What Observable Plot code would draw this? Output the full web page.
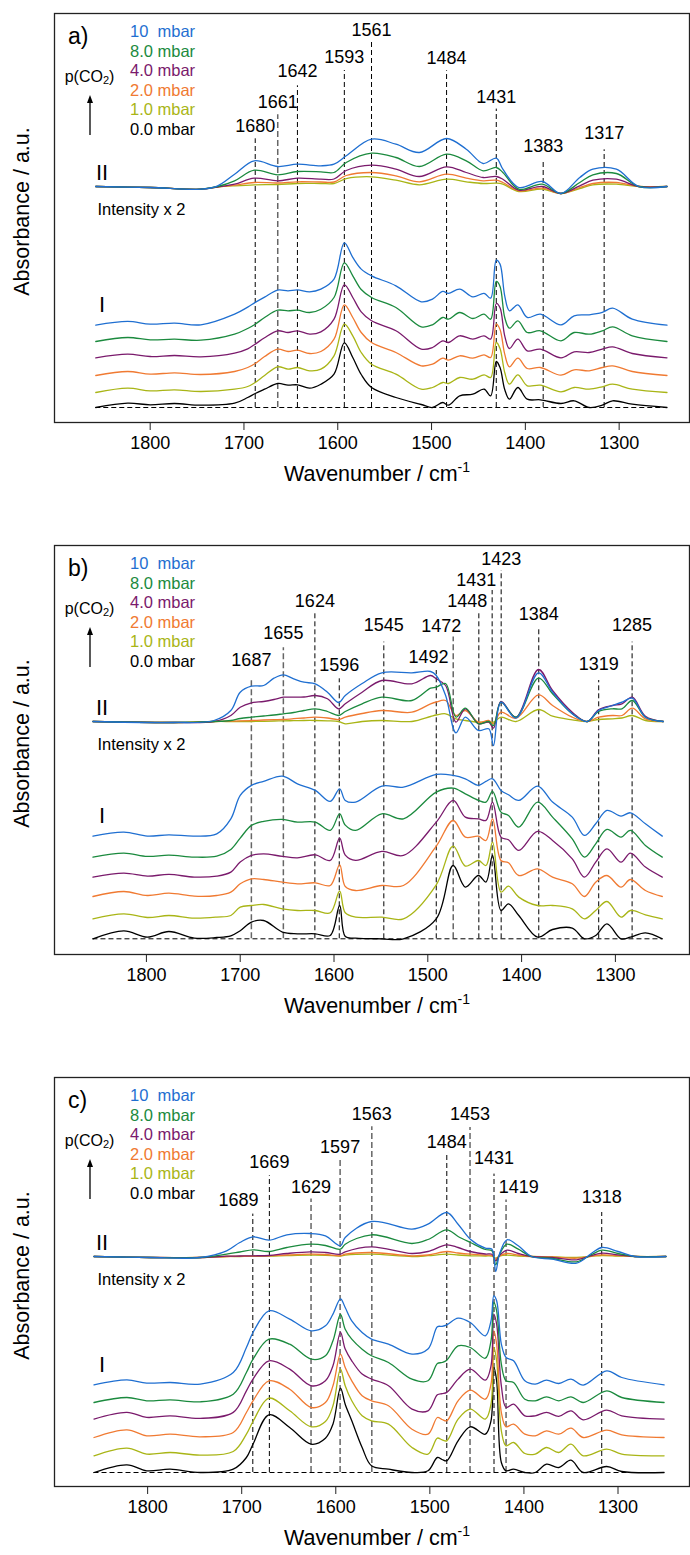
<!DOCTYPE html>
<html><head><meta charset="utf-8">
<script src="https://cdn.jsdelivr.net/npm/d3@7"></script>
<script src="https://cdn.jsdelivr.net/npm/@observablehq/plot@0.6"></script>
<style>
body{margin:0;background:#fff;width:690px;overflow:hidden}
svg{display:block}
</style></head><body><div id="chart"></div>
<script>
// ---------- legend / series ----------
const seriesNames = ["10\u00a0\u00a0mbar","8.0 mbar","4.0 mbar","2.0 mbar","1.0 mbar","0.0 mbar"];
const seriesColors = ["#1f6fd1","#1b8a3e","#7a1a6c","#f07a32","#a9b516","#000000"];
const xTicks = [1800,1700,1600,1500,1400,1300];

// ---------- panel a ----------
const wnA_I = [1858,1824,1800,1774,1746,1710,1696,1688,1678,1664,1653,1643,1630,1618,1604,1593,1584,1575,1564,1538,1511,1499,1488,1482,1470,1456,1444,1437,1431,1427,1422,1417,1408,1398,1384,1362,1348,1332,1318,1307,1286,1249];
const offA_I = [97.4,81,64.7,47,30,15];
const blueA_I   = [0,3.7,1,2,0.3,11,18,22.7,28,35,34.3,35.3,33.3,36,46,82.3,67.7,56,49.3,39.3,23.3,26,33.7,31.7,36,28.3,31.7,27,65,61,29.3,14.3,20.3,7.7,11,0.3,9.3,10.3,12.7,17,6,0];
const greenA_I  = [0,4,1.7,2.3,1.3,7.3,13,17.3,24,31.3,30.7,31.3,29,32.3,44,78.7,65.7,52,44,34,14.7,16.7,24,22.3,29,23,27.3,22.3,60,55,24,13.3,20.7,9,10.7,0.7,9,7.3,10.7,14.7,5.7,0];
const purpleA_I = [0,3.7,1.3,2.3,1,4.7,9,13.7,20,27,25.3,27,23.7,26,38.7,73,60.3,46,37,27,8.7,10.3,17,15.3,22,18.7,22,18.7,54.3,50,22,9.3,18.7,7,8.7,0,6,5.3,8.7,11,4.3,0];
const orangeA_I = [0,4,1.3,2.7,1,4,8,12,19,26.3,24,25.3,22,24,36.3,70.7,58,43,33,23,9.7,11.3,17.3,15.3,19.7,17.3,20.7,18,51.3,46,21.3,8.7,17.3,7,8,0.3,5.7,4.7,8,9.7,4,0];
const oliveA_I  = [0,4.3,1.7,2.7,1,3.3,6,10,17,25.7,23.3,25,21.7,23.3,36.7,68.3,56.7,40,28.3,18.3,3.3,5,10,9,15,13.3,17.7,15,50,44,20,8.3,17.7,6.7,7.3,0.7,5,3.3,5.7,8.3,3.3,0];
const blackA_I  = [0,4.3,2.7,4,2.3,4.3,10,14,18.3,24,22.3,22.7,19.3,23.3,33.3,64.7,50,33,20,10,3,0,5,2.3,11.7,13.3,18.3,11.7,46,40,18,8.3,20,8.3,7.7,4,6.7,0,2.3,6.7,3.3,0];

const wnA_II = [1858,1800,1746,1728,1710,1689,1664,1643,1618,1604,1591,1564,1538,1513,1484,1463,1445,1431,1424,1407,1382,1362,1342,1328,1303,1279,1249];
const baseA_II = 236;
const blueA_II   = [0,-1,-2.7,0.7,12.3,25.7,20,22.3,20.7,22.3,30.7,47.3,42.3,34,48,37.3,23,28.3,17.3,-1,5,-7,9,17.3,17.3,0,0];
const greenA_II  = [0,-1,-2.7,0,5.7,16.3,11.7,15,14.7,14,24,33.3,29,20,32.3,25.7,15.7,19,14,-2.7,2.3,-7,4,11.7,13,0,0];
const purpleA_II = [0,-1,-2.7,-0.5,2.3,8.3,5.7,8.3,7.3,7.5,16,21.3,17.3,10,19.7,14,9,10,7.3,-3.7,0,-7,0.7,6.3,7.3,0,0];
const orangeA_II = [0,-1,-2.7,-0.5,1.3,4,3.5,4.7,4.5,4.5,11,14,10.7,4.7,12.3,8.3,5.7,6.3,4,-4.3,-1.7,-7,-1,3,4,0,0];
const oliveA_II  = [0,-1,-2.7,-0.5,0.7,1.7,2,3,3,3,7.8,9.7,6.3,1.7,7.3,4.7,3,3.3,2.3,-5,-2.7,-7,-2,1.7,2.3,0,0];

const peaksA = [
  {label:"1680", pos:1688, top:283.7, ly:296.7},
  {label:"1661", pos:1664, top:307.7, ly:320},
  {label:"1642", pos:1643, top:336.7, ly:351.7},
  {label:"1593", pos:1593, top:352, ly:365},
  {label:"1561", pos:1564, top:380, ly:392.4},
  {label:"1484", pos:1484, top:351.7, ly:364.4},
  {label:"1431", pos:1431, top:313.4, ly:325.7},
  {label:"1383", pos:1381, top:261.7, ly:276.7},
  {label:"1317", pos:1316, top:272.7, ly:289}
];

// ---------- panel b ----------
const wnB_I = [1857,1824,1799,1776,1749,1725,1710,1700,1688,1675,1655,1639,1620,1604,1594,1588,1577,1549,1526,1491,1473,1460,1446,1438,1431,1422,1414,1403,1383,1367,1346,1333,1321,1309,1294,1284,1268,1250];
const offB_I = [118.4,97.4,77.4,58,35.7,15.7];
const blueB_I   = [0,4,0,1.3,0,2.3,17.3,40.7,50.7,54.7,60,52.3,45.7,34.7,47.3,35.7,34,50,49,61.7,60.7,57.3,50.7,54.7,57.3,45.7,41.3,35.7,50,34,19,0.7,12.3,25.7,20,23.3,12.3,0];
const greenB_I  = [0,4,0.7,2,0,1,7.7,19,31.7,35.7,37.7,35,35,26.7,43.3,32,26.7,43.3,38.3,65,69,63.3,56.7,55,65.7,45,41.7,30,55,40,18.3,0,13.3,27.7,20,26.7,11.7,0];
const purpleB_I = [0,4,1,2.7,0,1,5,15,21.7,23.3,20.7,19.3,22.3,16.7,39,22,16.7,25.7,21.7,55,76.7,60,58.3,56.7,75,40,37.3,26.7,45.7,36.7,18.3,0,15,28.3,15,24,10,0];
const orangeB_I = [0,5,1,3.3,0.3,1,4.3,12.7,17.7,17,14.3,12.7,13.7,11,31.7,10,6,11,11,50.3,76,59.3,60.3,56,77.7,36,33.7,21,27.7,19.3,12.7,0,14.3,21,9.3,17,6,0];
const oliveB_I  = [0,5,1.3,3.3,0.7,1.7,3.3,11.7,13.3,14.3,10,8.3,8.3,6,27.7,6,1.7,1.7,0,34,72.7,52.7,58.3,53.3,76.7,26.7,32.7,21.7,13.3,13.3,10,0,8.3,17.3,1.7,8.3,4,0];
const blackB_I  = [0,8,1.7,7.3,0.7,1.3,3,8,16.7,18.3,6.7,5,5,3.3,33.3,2.3,0.7,0,0,20,73.3,51.7,63.3,56.7,83.3,28.3,35,23.3,1.7,9.3,10.7,0,3.3,15,0,1.7,6,0];

const wnB_II = [1857,1771,1728,1710,1700,1688,1675,1664,1654,1643,1632,1620,1607,1595,1588,1570,1549,1517,1497,1491,1481,1470,1460,1446,1435,1430,1422,1406,1382,1367,1346,1330,1318,1303,1293,1282,1268,1249];
const baseB_II = 233;
const blueB_II   = [0,-1,1,11,29.3,35.3,36,43.3,46.7,42.7,39.3,37.7,29.3,19,26,38,48.7,48.7,50,46,26,-11.3,4.3,-9,-7.3,-24,19.3,3.3,48.7,29.3,7.7,0,11,16,19.3,23.3,4.3,0];
const greenB_II  = [0,-1,0,1,3,4.3,5.5,6.5,7.7,9,11,12.7,10,6,10,17.7,24.3,21,33.3,34.3,38,4.3,13.3,-2.3,0,-4,19.3,4.3,43.3,27.7,7.7,0,10,12.7,12.7,21,4.3,0];
const purpleB_II = [0,-1,0,6,14.3,18.7,20,22,24.3,24.3,24.5,26,22.7,12.7,17.7,29.3,41,37.7,46,42.7,36,-0.7,12.7,-2.3,-0.7,-6.7,20,4.3,52,31,9.3,0,11.7,16,17.7,24.3,5.3,0];
const orangeB_II = [0,-1,0,0.3,0.6,1,1.5,1.8,2,2.8,3.5,4.3,3.5,2,4.3,8,11,9.3,17.7,19.5,21,6,11,-0.7,1,-2.3,9.3,3.3,26.7,16,4.3,0,4.3,6,6,13.3,2.7,0];
const oliveB_II  = [0,-1,0,0,0,0,0.2,0.5,0.7,0.8,1,1,0.7,0,-2.3,0,1,0,5,6.5,7.7,2.7,1,-0.7,-0.5,-0.7,4.3,0,12,5.3,1.7,0,2,2.7,3.5,6,1,0];

const peaksB = [
  {label:"1687", pos:1688.1, top:275.7, ly:294},
  {label:"1655", pos:1654, top:306.7, ly:321.7},
  {label:"1624", pos:1620.4, top:340.7, ly:353},
  {label:"1596", pos:1594.4, top:275.7, ly:289.7},
  {label:"1545", pos:1546.9, top:312.4, ly:329},
  {label:"1492", pos:1491, top:284, ly:297.4, at:1499.3},
  {label:"1472", pos:1472.9, top:317.4, ly:328.4, at:1485.6},
  {label:"1448", pos:1445.6, top:340.7, ly:353, at:1458},
  {label:"1431", pos:1431.4, top:364, ly:374, at:1448.3},
  {label:"1423", pos:1421.8, top:384, ly:395},
  {label:"1384", pos:1381.7, top:327.4, ly:340},
  {label:"1319", pos:1317.8, top:274, ly:290.7},
  {label:"1285", pos:1282.2, top:312.4, ly:329}
];

// ---------- panel c ----------
const wnC_I = [1857,1822,1801,1776,1744,1709,1695,1688,1671,1649,1626,1611,1603,1595,1590,1583,1572,1562,1544,1519,1502,1492,1487,1482,1470,1457,1441,1435,1432,1429,1424,1419,1411,1399,1388,1376,1363,1350,1337,1312,1296,1251];
const offC_I = [101.7,84,67.4,49,30.7,14];
const blueC_I   = [0,5,1.7,2.3,0.7,12.3,37.3,52.3,74,65.7,54,59,70.7,86,77.3,64,52.3,45.7,40.7,30.7,35.7,58,58.5,60,66.7,62.3,49,64,89,84,40.7,27.3,24,4,0.7,4.7,1.3,5.7,-0.3,14,7.3,0];
const greenC_I  = [0,5,1.7,2.7,0.7,8.3,30,43.3,63.3,58.3,43.3,46.7,61.7,88,73.3,63.3,53.3,46.7,40,23.3,21.7,39,40,42.3,56.7,55,44.3,61.7,100,91.7,38.3,21.7,20,3.3,1.7,5.7,1.7,5.7,0,11.7,5,0];
const purpleC_I = [0,6.7,1.7,3.3,0.7,6.7,28.3,40,58.3,50,33.3,38.3,53.3,86.7,70,58.3,45,40,33.3,10,8.3,24.3,25.5,26.7,40,50,39,53.3,105,95,33.3,11.7,15,3.3,3.3,6.7,2.7,8.3,-0.7,9,3.3,0];
const orangeC_I = [0,7.7,1.7,3.3,0.7,5,25,36.7,56.7,48.3,30,35,51.7,83.3,70,56.7,41.7,36.7,31.7,8.3,3.3,20,18,16.7,36.7,47.3,38.3,53.3,106.7,93.3,25,10.7,13.3,3.3,1.7,6.7,3.3,9.3,0,7.3,2.7,0];
const oliveC_I  = [0,7.7,1.7,3.3,0.7,4.3,21.7,34.3,57.7,45,29,34.3,50,86.7,70,55,40,35,31.7,8.3,1.7,17.7,16,15,36.7,46.7,36.7,51.7,108.3,95,25,10,13.3,2.3,1.7,8.3,3.3,11.7,0,6.7,1.7,0];
const blackC_I  = [0,7.7,1.7,3.3,0,3.3,15,28.3,57.7,45,28.3,34.3,48.3,84.3,68.3,51.7,25,6.7,3.3,0,1.7,15,13,11.7,31.7,45.7,38.3,51.7,105,91.7,10,1.7,3.3,0,0,8.3,5,12.3,0,6,1,0];

const wnC_II = [1857,1797,1744,1716,1702,1688,1671,1652,1627,1611,1595,1590,1562,1519,1502,1482,1470,1457,1441,1434,1430,1426,1418,1406,1392,1370,1344,1328,1317,1300,1282,1249];
const baseC_II = 230;
const blueC_II   = [0,-1,-1,5.7,14,19.7,16.3,21.7,23,20.7,10.7,19,35,27.3,32.3,44,32.3,17.3,8.3,7.3,-15,2.3,16.7,10.7,0,-2.7,-6.7,3.3,9,5,0,0];
const greenC_II  = [0,-1,-1,2.3,4.5,6.7,5,9,12.3,11,7.3,12.3,21.7,13,17,26.7,20,14,7,5.7,-8.3,2,12.3,7.3,0,-2,-5.3,2,6.3,3,0,0];
const purpleC_II = [0,-1,-1,0.3,0.5,0.7,1,3,4.7,4,2.3,4.7,9.7,3,5,11.7,9,5,2.5,2.3,-4.3,1,6.3,3,0,-1,-3.3,1,3.3,1.7,0,0];
const orangeC_II = [0,-1,-1,0,0.2,0.4,0.6,1.5,2.3,2,0.7,2.3,4,0.7,1.5,5,3.5,2.3,1.3,1,-2.7,0.5,3,1.5,0,-0.5,-1.7,0.3,1.7,0.8,0,0];
const oliveC_II  = [0,-1,-1,0,0,0.2,0.3,0.8,1.3,1.2,0.5,1.3,2.3,0,0.8,2.3,1.5,0.7,0.5,0.3,-1.7,0.3,1.3,0.5,0,-0.3,-1,0.2,1,0.5,0,0];

const peaksC = [
  {label:"1689", pos:1688.2, top:272.4, ly:286.4, at:1703.5},
  {label:"1669", pos:1670.6, top:310.7, ly:324},
  {label:"1629", pos:1626.3, top:287.4, ly:299},
  {label:"1597", pos:1595.4, top:329, ly:339.7},
  {label:"1563", pos:1561.7, top:359.7, ly:372.4},
  {label:"1484", pos:1482, top:331.4, ly:344},
  {label:"1453", pos:1457.3, top:359, ly:372.4},
  {label:"1431", pos:1431.8, top:312.4, ly:328},
  {label:"1419", pos:1419, top:286.4, ly:299, at:1405.5},
  {label:"1318", pos:1317.3, top:274, ly:289}
];

// ---------- styling (not data) ----------
const grayLines = {a:["1661"], b:["1687","1655","1472"], c:["1629","1597","1563","1453","1419"]};
const FONT = "'Liberation Sans', Arial, Helvetica, sans-serif";

const panels = [
  {tag:"a)", key:"a", xDomain:[1902,1225], height:532, wnI:wnA_I, offI:offA_I,
   I:[blueA_I,greenA_I,purpleA_I,orangeA_I,oliveA_I,blackA_I],
   wnII:wnA_II, baseII:baseA_II, II:[blueA_II,greenA_II,purpleA_II,orangeA_II,oliveA_II],
   peaks:peaksA, start:1858, end:1249},
  {tag:"b)", key:"b", xDomain:[1898,1221], height:532, wnI:wnB_I, offI:offB_I,
   I:[blueB_I,greenB_I,purpleB_I,orangeB_I,oliveB_I,blackB_I],
   wnII:wnB_II, baseII:baseB_II, II:[blueB_II,greenB_II,purpleB_II,orangeB_II,oliveB_II],
   peaks:peaksB, start:1857, end:1250},
  {tag:"c)", key:"c", xDomain:[1899,1224], height:491, wnI:wnC_I, offI:offC_I,
   I:[blueC_I,greenC_I,purpleC_I,orangeC_I,oliveC_I,blackC_I],
   wnII:wnC_II, baseII:baseC_II, II:[blueC_II,greenC_II,purpleC_II,orangeC_II,oliveC_II],
   peaks:peaksC, start:1857, end:1251}
];

const M = {top:13, left:54, right:1, plotH:409};

function makePanel(p) {
  const lineMarks = [];
  for (let k = p.II.length - 1; k >= 0; k--) {
    const data = p.wnII.map((w, i) => ({w, v: p.baseII + p.II[k][i]}));
    lineMarks.push(Plot.line(data, {x:"w", y:"v", stroke: seriesColors[k], strokeWidth:1.3, curve:"catmull-rom"}));
  }
  for (let k = p.I.length - 1; k >= 0; k--) {
    const data = p.wnI.map((w, i) => ({w, v: p.offI[k] + p.I[k][i]}));
    lineMarks.push(Plot.line(data, {x:"w", y:"v", stroke: seriesColors[k], strokeWidth:1.3, curve:"catmull-rom"}));
  }
  const base = p.offI[p.offI.length - 1];
  const gray = grayLines[p.key];
  const svg = Plot.plot({
    width: 690, height: p.height,
    marginTop: M.top, marginLeft: M.left, marginRight: M.right,
    marginBottom: p.height - M.top - M.plotH,
    style: {fontFamily: FONT, fontSize: "18px", color: "#000", background: "#fff", overflow: "visible"},
    x: {domain: p.xDomain},
    y: {domain: [0, 409], axis: null},
    marks: [
      Plot.ruleX(p.peaks.filter(d => !gray.includes(d.label)), {x:"pos", y1: base, y2:"top", stroke:"#000", strokeWidth:1, strokeDasharray:"5,3"}),
      Plot.ruleX(p.peaks.filter(d => gray.includes(d.label)), {x:"pos", y1: base, y2:"top", stroke:"#666", strokeWidth:1.5, strokeDasharray:"6,3"}),
      Plot.ruleY([base], {x1: p.start, x2: p.end, stroke:"#000", strokeWidth:1, strokeDasharray:"5,3"}),
      ...lineMarks,
      Plot.text(p.peaks, {x: d => d.at ?? d.pos, y:"ly", text:"label", fontSize:18, fill:"#000"}),
      Plot.frame({stroke:"#222", strokeWidth:1.3}),
      Plot.axisX({ticks: xTicks, tickSize: 8, tickPadding: 6, tickFormat: d => String(d), label: null, fontSize: 18, stroke:"#222"})
    ]
  });
  const ys = svg.scale("y");
  const g = d3.select(svg).append("g").attr("font-family", FONT).attr("fill", "#000");
  const frameBottom = M.top + M.plotH;
  g.append("text").attr("x", 68).attr("y", M.top + 22.5).attr("dominant-baseline","central")
    .attr("font-size", 23).attr("text-anchor","start").text(p.tag);
  seriesNames.forEach((s, i) => {
    g.append("text").attr("x", 130).attr("y", M.top + 18.3 + i * 19.5)
      .attr("dominant-baseline","central").attr("text-anchor","start")
      .attr("font-size", 16.5).attr("fill", seriesColors[i]).text(s);
  });
  const pt = g.append("text").attr("x", 89.5).attr("y", M.top + 63.3)
    .attr("dominant-baseline","central").attr("text-anchor","middle").attr("font-size", 16);
  pt.append("tspan").text("p(CO");
  pt.append("tspan").attr("font-size", 11).attr("dy", 4).text("2");
  pt.append("tspan").attr("dy", -4).text(")");
  g.append("line").attr("x1", 90).attr("x2", 90).attr("y1", M.top + 122).attr("y2", M.top + 88)
    .attr("stroke", "#000").attr("stroke-width", 1.3);
  g.append("path").attr("d", `M90,${M.top + 82} L87,${M.top + 90} L93,${M.top + 90} Z`).attr("fill", "#000");
  const yII = ys.apply(p.baseII);
  g.append("text").attr("x", 96).attr("y", yII - 13.5).attr("dominant-baseline","central")
    .attr("text-anchor","start").attr("font-size", 22).text("II");
  g.append("text").attr("x", 97.5).attr("y", yII + 22.5).attr("dominant-baseline","central")
    .attr("text-anchor","start").attr("font-size", 16.5).text("Intensity x 2");
  const yI = ys.apply(p.offI[0]);
  g.append("text").attr("x", 99).attr("y", yI - 20).attr("dominant-baseline","central")
    .attr("text-anchor","start").attr("font-size", 22).text("I");
  g.append("text").attr("transform", `translate(22,${M.top + M.plotH / 2 - 6}) rotate(-90)`)
    .attr("dominant-baseline","central").attr("text-anchor","middle").attr("font-size", 21.5)
    .text("Absorbance / a.u.");
  const xt = g.append("text").attr("x", 377).attr("y", frameBottom + 52)
    .attr("dominant-baseline","central").attr("text-anchor","middle").attr("font-size", 21.5);
  xt.append("tspan").text("Wavenumber / cm");
  xt.append("tspan").attr("font-size", 14).attr("dy", -7).text("-1");
  return svg;
}

const root = document.getElementById("chart");
panels.forEach(p => root.appendChild(makePanel(p)));
</script></body></html>
